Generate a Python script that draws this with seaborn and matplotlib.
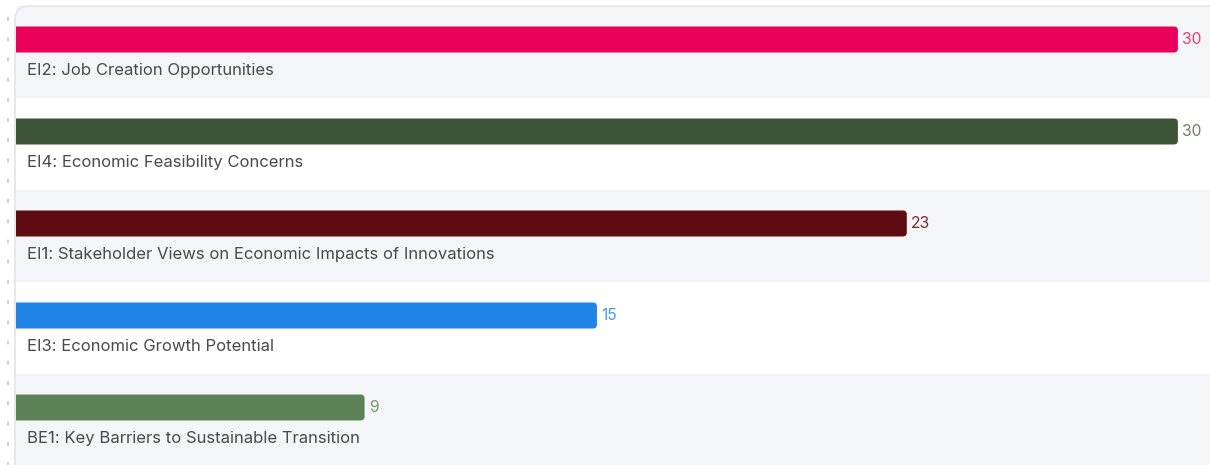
import matplotlib
matplotlib.use("Agg")
import matplotlib.pyplot as plt
from matplotlib.patches import FancyBboxPatch
from matplotlib.lines import Line2D
import seaborn as sns
import pandas as pd

categories = [
    "EI2: Job Creation Opportunities",
    "EI4: Economic Feasibility Concerns",
    "EI1: Stakeholder Views on Economic Impacts of Innovations",
    "EI3: Economic Growth Potential",
    "BE1: Key Barriers to Sustainable Transition",
]
values = [30, 30, 23, 15, 9]
bar_colors = ["#e8005a", "#3d5438", "#5e0c12", "#2185e8", "#5e8257"]
value_colors = ["#ea3c7c", "#6f806b", "#7c2d33", "#4797ea", "#739a6c"]

sns.set_theme(style="white")
plt.rcParams["font.family"] = ["Inter", "DejaVu Sans"]

W, H = 1210, 465
fig = plt.figure(figsize=(W / 100, H / 100), dpi=100)
fig.patch.set_facecolor("white")

# plot area starts one pixel inside the card border
left_px, top_px = 16, 6
ax = fig.add_axes([left_px / W, 0, 1 - left_px / W, (H - top_px) / H])

px_per_unit = 38.73
x_max = (W - left_px) / px_per_unit
band_px = 92.0
y_top = -0.364
y_bottom = y_top + (H - top_px) / band_px

df = pd.DataFrame({"category": categories, "value": values})
sns.barplot(data=df, y="category", x="value", hue="category",
            palette=bar_colors, orient="h", width=26 / band_px,
            legend=False, ax=ax, saturation=1, zorder=3)

ax.set_xlim(0, x_max)
ax.set_ylim(y_bottom, y_top)

# replace square bars with ones rounded on the right
r_x = 4 / px_per_unit
aspect = (1 / band_px) / (1 / px_per_unit)
bars = list(ax.patches)
for p in bars:
    x, y = p.get_x(), p.get_y()
    w, h = p.get_width(), p.get_height()
    fc = p.get_facecolor()
    p.remove()
    ax.add_patch(FancyBboxPatch((x - 2 * r_x, y), w + 2 * r_x, h,
                                boxstyle=f"round,pad=0,rounding_size={r_x}",
                                mutation_aspect=aspect, fc=fc, ec="none",
                                zorder=3, clip_on=True))

# alternating row bands
for i in range(len(categories)):
    ax.axhspan(i - 0.364, i + 0.636, color="#f4f5f7" if i % 2 == 0 else "white",
               zorder=0, lw=0)

# value labels and category labels
for i, (cat, v) in enumerate(zip(categories, values)):
    ax.text(v + 4.5 / px_per_unit, i, str(v), va="center", ha="left",
            fontsize=11.3, color=value_colors[i], zorder=4)
    ax.text(11 / px_per_unit, i + 0.332, cat, va="center", ha="left",
            fontsize=12, color="#4a4a4a", zorder=4)

ax.set_xlabel("")
ax.set_ylabel("")
ax.set_xticks([])
ax.set_yticks([])
for s in ax.spines.values():
    s.set_visible(False)

# card outline with rounded top-left corner
fig.add_artist(FancyBboxPatch((15 / W, -0.1), 1.2, (H - top_px) / H + 0.1,
                              boxstyle="round,pad=0,rounding_size=0.012",
                              transform=fig.transFigure, fc="none",
                              ec="#e2e4e8", lw=1.2, zorder=5,
                              mutation_aspect=W / H))

# faint dotted guide at the far left
fig.add_artist(Line2D([8 / W, 8 / W], [0, 1 - 15 / H], transform=fig.transFigure,
                      color="#cfd2d6", lw=1.6, linestyle=(0, (1, 8.1)),
                      solid_capstyle="round", dash_capstyle="round"))

fig.savefig("out.png", dpi=100, facecolor="white")
